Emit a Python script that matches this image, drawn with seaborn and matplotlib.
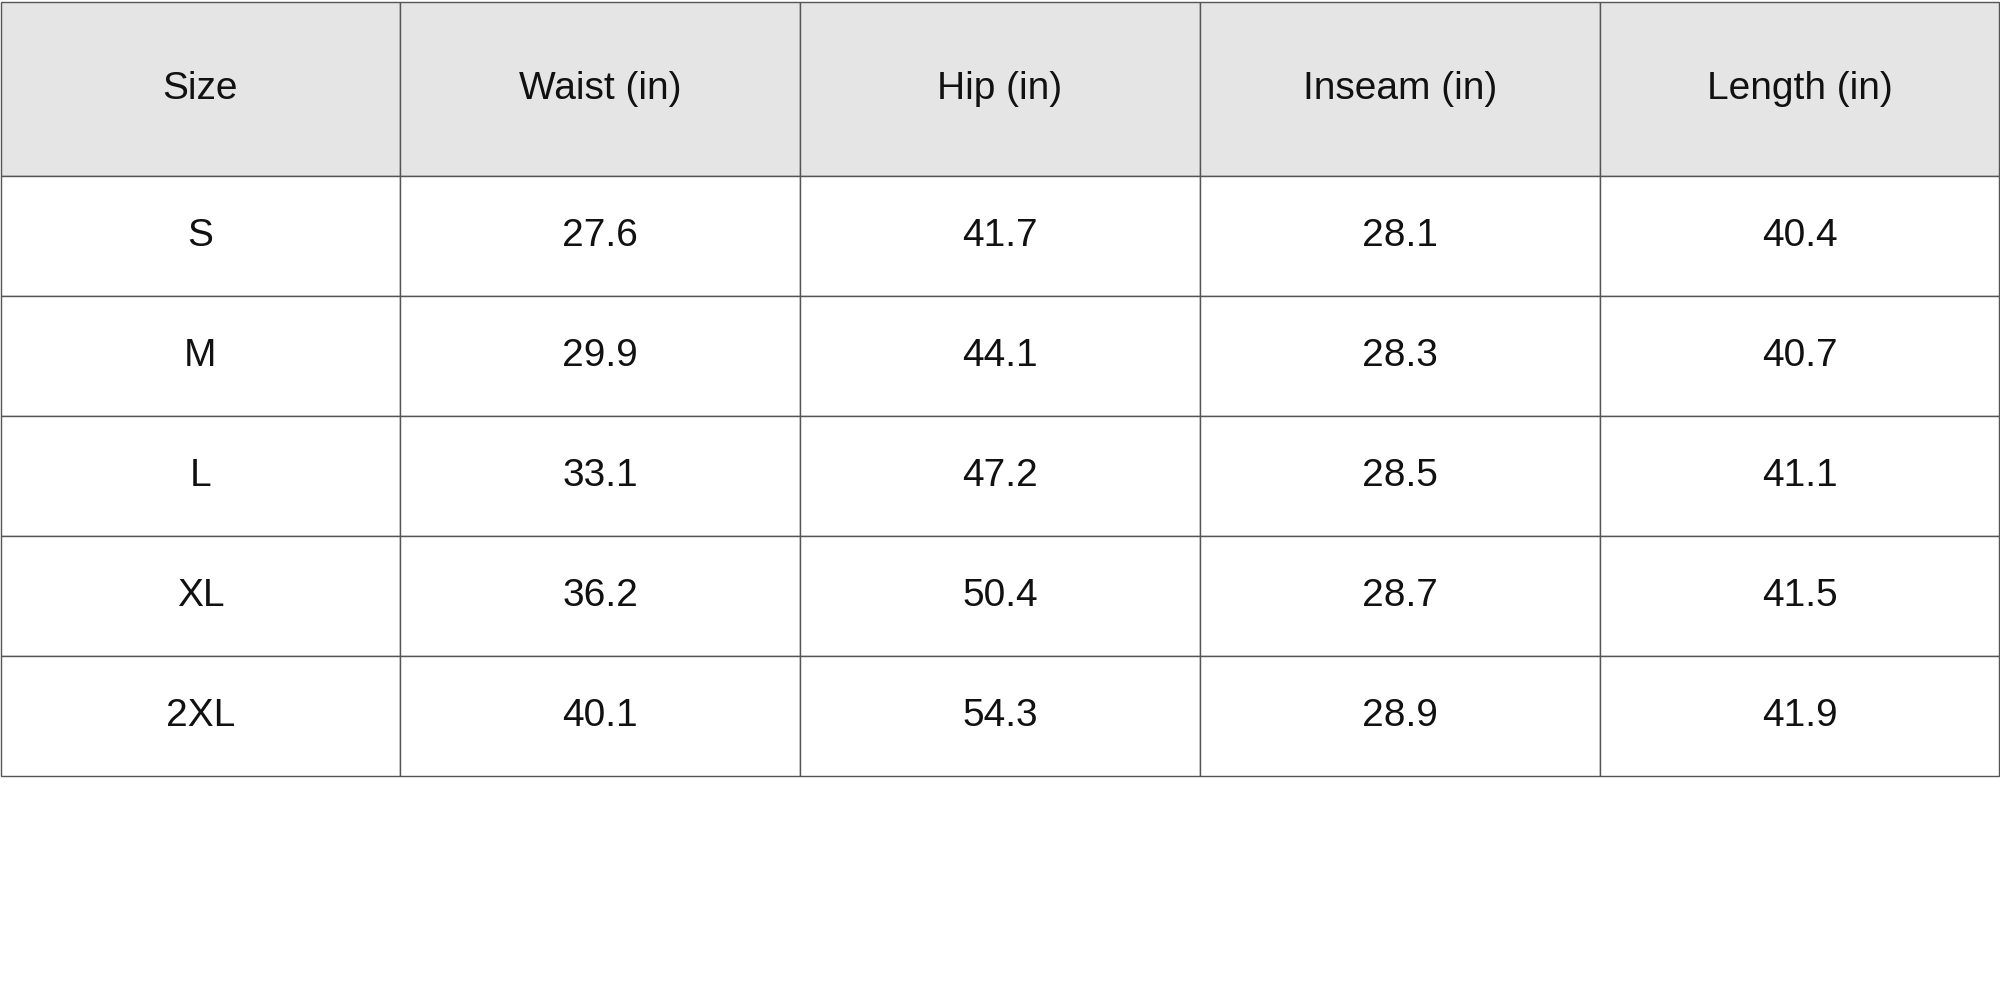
import matplotlib
matplotlib.use("Agg")
import matplotlib.pyplot as plt
import seaborn as sns

sns.set_theme(style="white")
plt.rcParams['font.family'] = ['Liberation Sans', 'DejaVu Sans']

columns = ["Size", "Waist (in)", "Hip (in)", "Inseam (in)", "Length (in)"]
sizes = ["S", "M", "L", "XL", "2XL"]
waist = [27.6, 29.9, 33.1, 36.2, 40.1]
hip = [41.7, 44.1, 47.2, 50.4, 54.3]
inseam = [28.1, 28.3, 28.5, 28.7, 28.9]
length = [40.4, 40.7, 41.1, 41.5, 41.9]

cells = [[s, f"{w:.1f}", f"{h:.1f}", f"{i:.1f}", f"{l:.1f}"]
         for s, w, h, i, l in zip(sizes, waist, hip, inseam, length)]

fig = plt.figure(figsize=(20, 10), dpi=100)
ax = fig.add_axes([0, 0, 1, 1])
ax.axis("off")

top, bottom = 0.9975, 0.2245
tbl = ax.table(cellText=cells, colLabels=columns, cellLoc="center",
               bbox=[0.0003, bottom, 0.9994, top - bottom])
tbl.auto_set_font_size(False)
total = 136 + 5 * 94
for (r, c), cell in tbl.get_celld().items():
    cell.set_edgecolor("#555555")
    cell.set_linewidth(1.0)
    cell.get_text().set_fontsize(28)
    cell.get_text().set_color("#111111")
    if r == 0:
        cell.set_facecolor("#e5e5e5")
        cell.set_height(136 / total * (top - bottom))
    else:
        cell.set_facecolor("white")
        cell.set_height(94 / total * (top - bottom))

fig.savefig("out.png", dpi=100)
